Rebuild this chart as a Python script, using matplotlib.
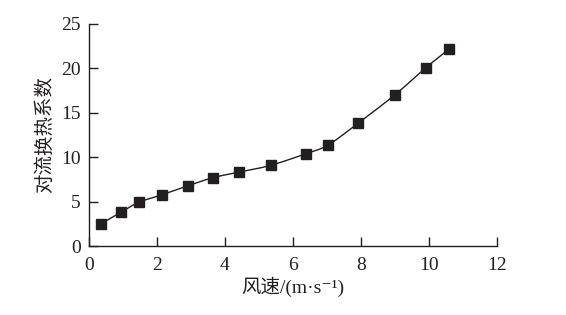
import numpy as np
import matplotlib
matplotlib.use("Agg")
import matplotlib.pyplot as plt

# values
wind_speed = [0.35, 0.96, 1.47, 2.16, 2.92, 3.65, 4.43, 5.35, 6.39, 7.04, 7.93, 9.00, 9.92, 10.61]
conv_coef = [2.48, 3.83, 4.92, 5.78, 6.79, 7.69, 8.33, 9.08, 10.40, 11.37, 13.85, 17.00, 20.08, 22.20]
x_ticks = [0, 2, 4, 6, 8, 10, 12]
y_ticks = [0, 5, 10, 15, 20, 25]

plt.rcParams['font.family'] = ['Liberation Serif', 'Noto Sans CJK SC', 'DejaVu Serif']

ink = '#231f20'


def smooth_curve(x, y, n=20):
    # Catmull-Rom spline through the points, only used for the connecting line
    x = np.asarray(x, float)
    y = np.asarray(y, float)
    px = np.concatenate([[2 * x[0] - x[1]], x, [2 * x[-1] - x[-2]]])
    py = np.concatenate([[2 * y[0] - y[1]], y, [2 * y[-1] - y[-2]]])
    t = np.linspace(0, 1, n, endpoint=False)
    xs, ys = [], []
    for i in range(1, len(px) - 2):
        for arr, out in ((px, xs), (py, ys)):
            p0, p1, p2, p3 = arr[i - 1], arr[i], arr[i + 1], arr[i + 2]
            out.extend(0.5 * (2 * p1 + (-p0 + p2) * t
                              + (2 * p0 - 5 * p1 + 4 * p2 - p3) * t ** 2
                              + (-p0 + 3 * p1 - 3 * p2 + p3) * t ** 3))
    xs.append(x[-1])
    ys.append(y[-1])
    return np.array(xs), np.array(ys)


fig = plt.figure(figsize=(5.66, 3.15), dpi=100)
ax = fig.add_axes([0.157, 0.219, 0.7205, 0.705])

sx, sy = smooth_curve(wind_speed, conv_coef)
ax.plot(sx, sy, color=ink, linewidth=1.0)
ax.plot(wind_speed, conv_coef, linestyle='none', marker='s', markersize=6.5,
        color=ink)

ax.set_xlim(0, 12)
ax.set_ylim(0, 25)
ax.set_xticks(x_ticks)
ax.set_yticks(y_ticks)

for side in ('top', 'right'):
    ax.spines[side].set_visible(False)
for side in ('left', 'bottom'):
    ax.spines[side].set_linewidth(1.0)
    ax.spines[side].set_color(ink)

ax.tick_params(direction='in', length=6.5, width=1.0, colors=ink,
               labelsize=14, pad=6)
ax.tick_params(axis='x', pad=8)

ax.set_xlabel('风速/(m·s⁻¹)', fontsize=14, color=ink, labelpad=2)
ax.set_ylabel('对流换热系数', fontsize=14, color=ink, labelpad=5)

fig.savefig('out.png', dpi=100)
